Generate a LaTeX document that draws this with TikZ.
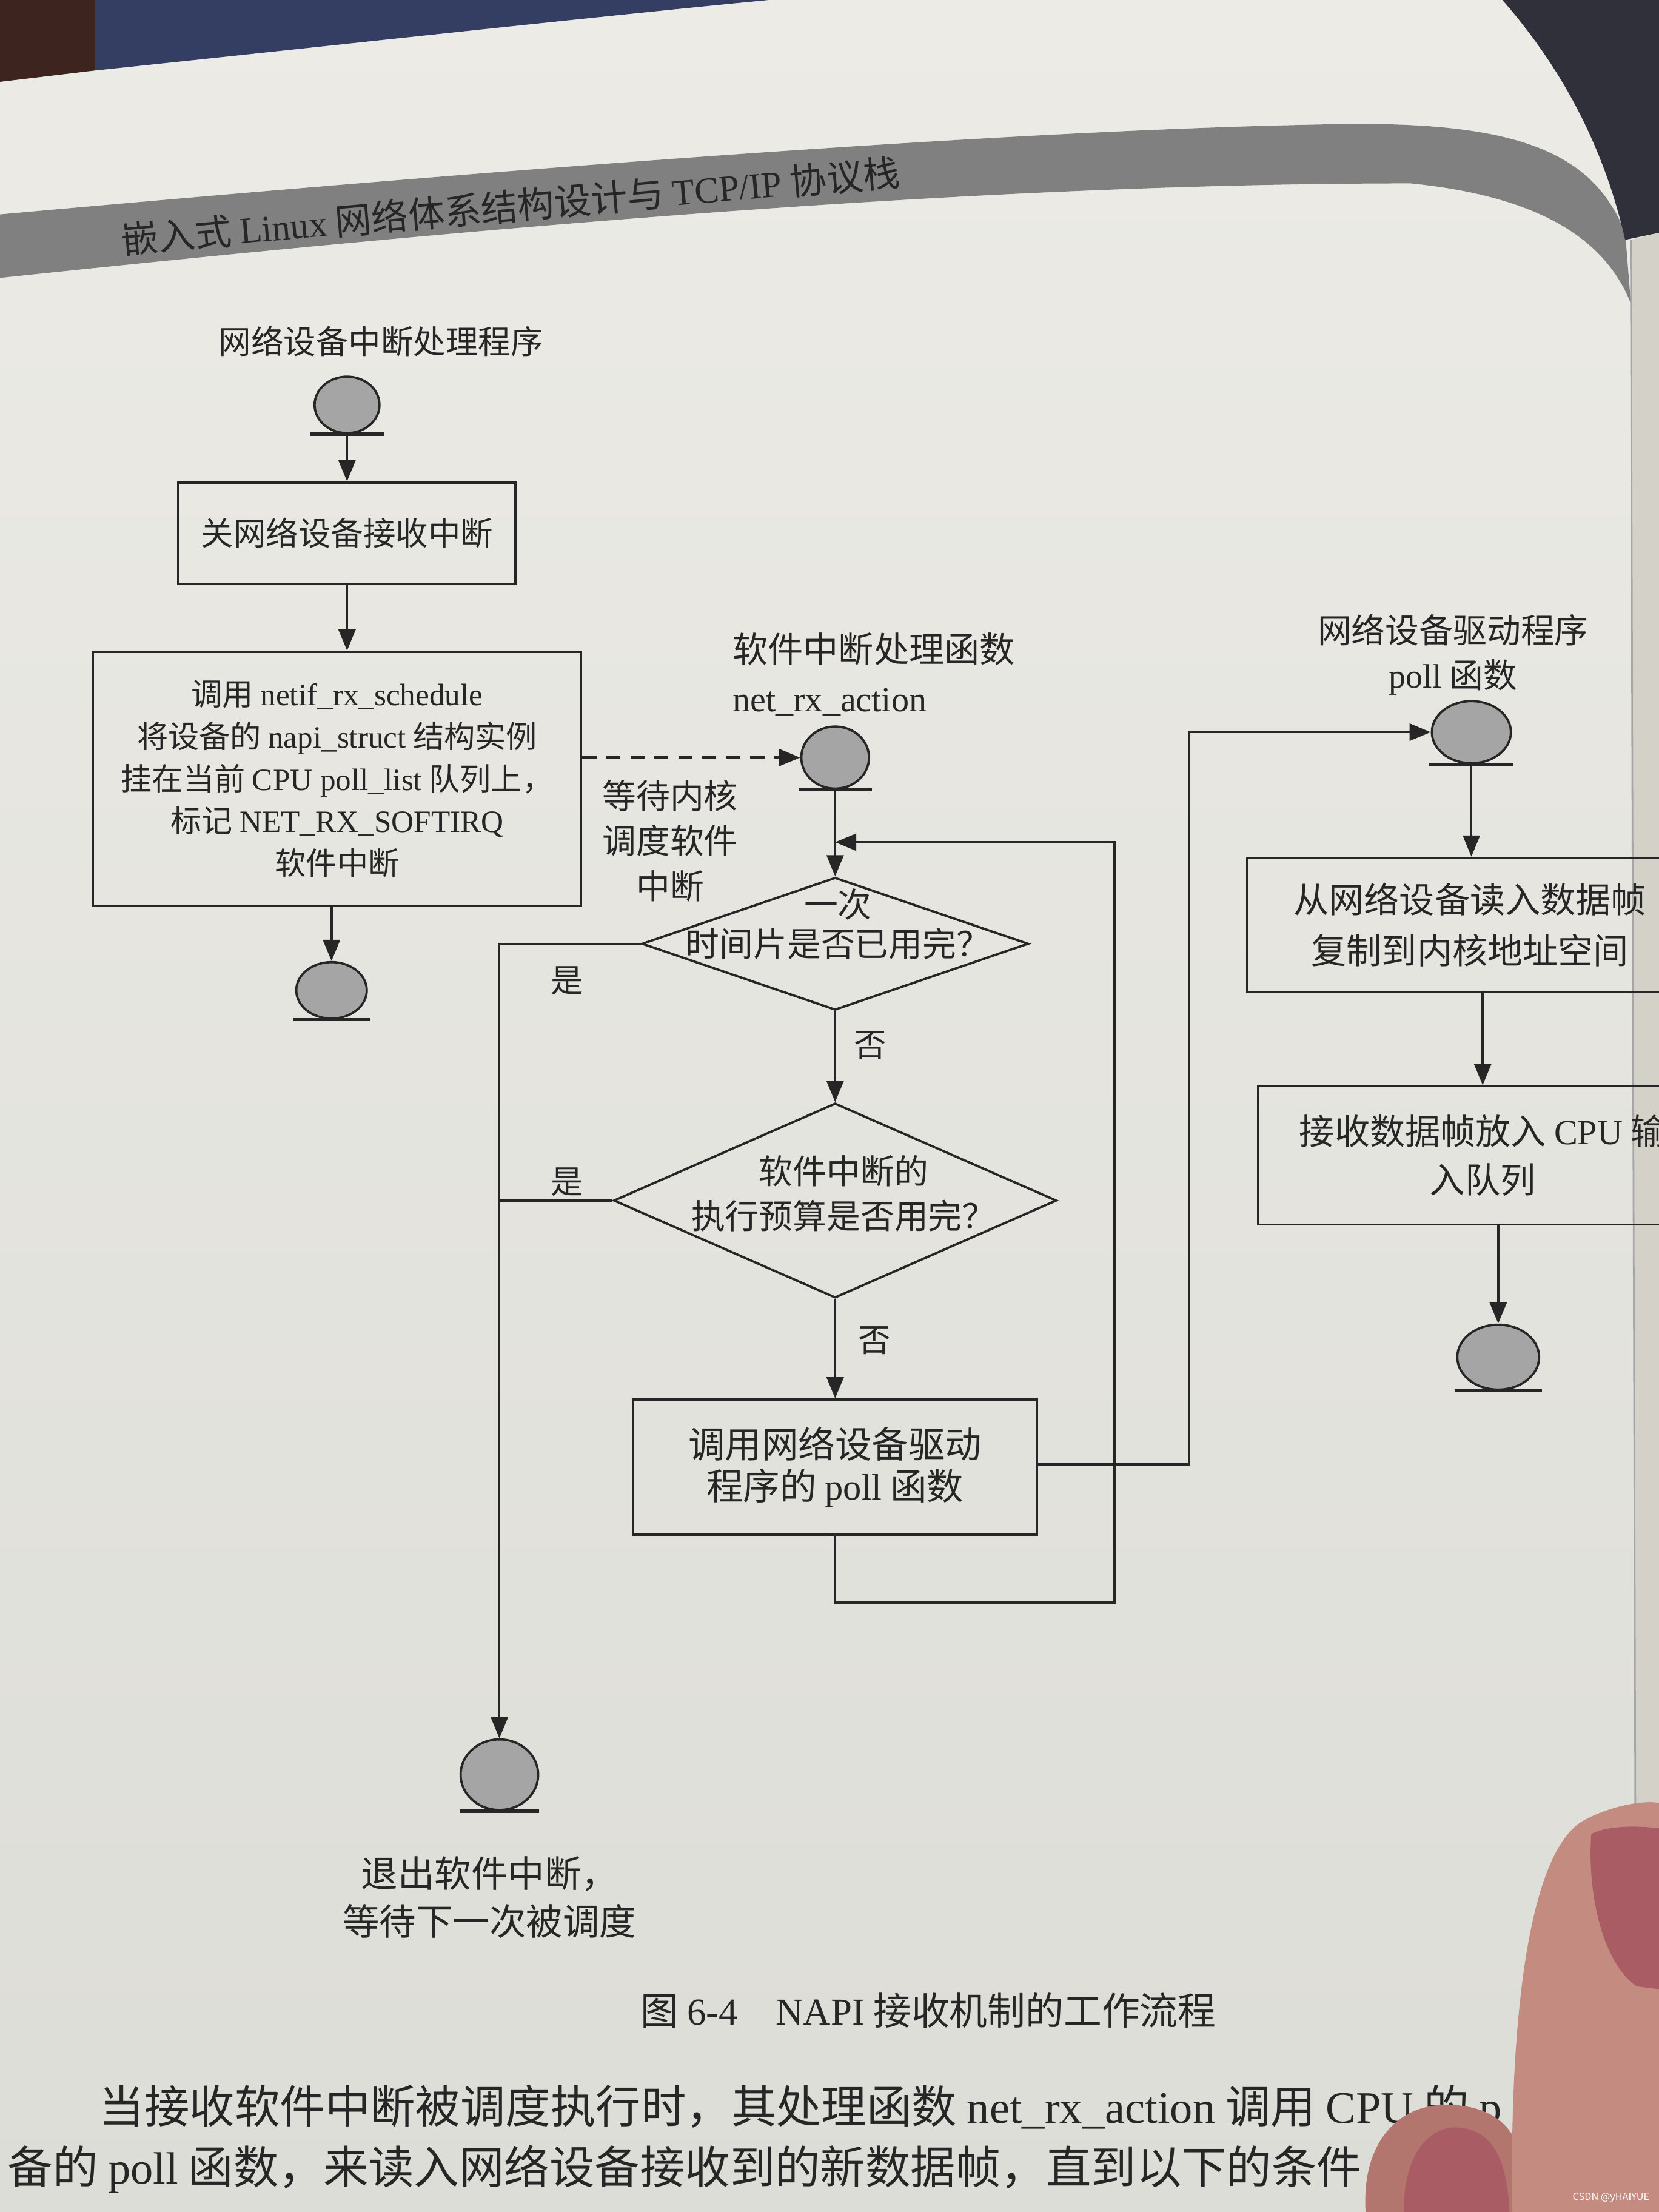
\documentclass[tikz,border=0pt]{standalone}
\usepackage{fontspec}
\setmainfont{Noto Sans CJK SC}
\newfontfamily\enfont{Liberation Serif}
\usetikzlibrary{shapes.geometric,arrows.meta,calc}
\newcommand{\latn}[1]{{\enfont #1}}
\newcommand{\fsz}[2]{\fontsize{#1pt}{#2pt}\selectfont}
\definecolor{paperTop}{RGB}{236,235,229}
\definecolor{paperBot}{RGB}{221,221,215}
\definecolor{ink}{RGB}{38,38,38}
\definecolor{termfill}{RGB}{165,165,165}
\definecolor{bandgray}{RGB}{128,128,128}
\definecolor{navy}{RGB}{52,62,98}
\definecolor{darkbrown}{RGB}{62,36,30}
\definecolor{darkcorner}{RGB}{48,48,58}
\definecolor{nextpage}{RGB}{212,210,200}
\definecolor{skin}{RGB}{196,140,128}
\definecolor{skindark}{RGB}{178,118,110}
\definecolor{nail}{RGB}{170,92,100}
\begin{document}
\begin{tikzpicture}[x=0.5pt,y=-0.5pt,
  lab/.style={inner sep=0pt, text=ink, align=center},
  box/.style={draw=ink, line width=0.8pt, inner sep=0pt, text=ink, align=center},
  term/.style={ellipse, draw=ink, line width=0.8pt, fill=termfill, inner sep=0pt},
  dia/.style={diamond, draw=ink, line width=0.8pt, inner sep=0pt},
  conn/.style={draw=ink, line width=0.8pt},
  arr/.style={conn, -{Triangle[length=7.5pt,width=6pt]}},
  bar/.style={draw=ink, line width=1.2pt}]
\clip (0,0) rectangle (1176,1568);
% ---------- paper and photo surroundings ----------
\fill[top color=paperTop, bottom color=paperBot] (0,0) rectangle (1176,1568);
\fill[darkbrown] (0,0) -- (67,0) -- (67,50) -- (0,58) -- cycle;
\fill[navy] (67,0) -- (545,0) .. controls (420,12) and (220,34) .. (67,50) -- cycle;
\fill[bandgray] (0,152) .. controls (300,125) and (700,92) .. (950,88)
  .. controls (1080,86) and (1130,110) .. (1152,165) -- (1156,215)
  .. controls (1140,175) and (1100,140) .. (1000,130)
  .. controls (700,130) and (350,160) .. (0,197) -- cycle;
\fill[nextpage] (1156,170) -- (1176,165) -- (1176,1568) -- (1160,1568) -- cycle;
\draw[black!35, line width=0.6pt] (1156,170) -- (1160,1568);
\fill[darkcorner] (1065,0) .. controls (1100,40) and (1135,95) .. (1152,170) -- (1176,165) -- (1176,0) -- cycle;
\node[lab, rotate=5, font=\fsz{13}{15}, text=black!85] (hdr) at (362,146)
  {嵌入式 \latn{Linux} 网络体系结构设计与 \latn{TCP/IP} 协议栈};
% ---------- left column ----------
\node[lab, font=\fsz{11.5}{14}] (t1) at (270,242) {网络设备中断处理程序};
\node[term, minimum width=23pt, minimum height=20pt] (c1) at (246,287) {};
\draw[bar] ($(c1.south)+(-26,0)$) -- ($(c1.south)+(26,0)$);
\node[box, minimum width=119.5pt, minimum height=36pt, font=\fsz{11.5}{14}] (b1) at (246,378) {关网络设备接收中断};
\node[box, minimum width=173pt, minimum height=90pt, font=\fsz{11}{15}] (b2) at (239,552)
  {调用 \latn{netif\_rx\_schedule}\\将设备的 \latn{napi\_struct} 结构实例\\挂在当前 \latn{CPU poll\_list} 队列上，\\标记 \latn{NET\_RX\_SOFTIRQ}\\软件中断};
\node[term, minimum width=25pt, minimum height=20pt] (c3) at (235,702) {};
\draw[bar] ($(c3.south)+(-27,0)$) -- ($(c3.south)+(27,0)$);
\draw[arr] (c1.south) -- (c1.south |- b1.north);
\draw[arr] (b1.south) -- (b1.south |- b2.north);
\draw[arr] (b2.south -| c3.north) -- (c3.north);
% ---------- middle column ----------
\node[lab, align=left, anchor=west, font=\fsz{12.5}{17.5}] (t2) at (519,478)
  {软件中断处理函数\\\latn{net\_rx\_action}};
\node[term, minimum width=24pt, minimum height=22pt] (c2) at (592,537) {};
\draw[bar] ($(c2.south)+(-26,0)$) -- ($(c2.south)+(26,0)$);
\draw[arr, dashed, dash pattern=on 5pt off 3.5pt] (b2.east |- c2.west) -- (c2.west);
\node[lab, font=\fsz{12}{16}] (wait) at (475,596) {等待内核\\调度软件\\中断};
\node[dia, minimum width=137pt, minimum height=47pt] (d1) at (592,669) {};
\node[lab, font=\fsz{12}{14}] (d1t) at (594,655) {一次\\时间片是否已用完？};
\node[dia, minimum width=157pt, minimum height=69pt] (d2) at (592,851) {};
\node[lab, font=\fsz{12}{16}] (d2t) at (598,846) {软件中断的\\执行预算是否用完？};
\node[box, minimum width=143pt, minimum height=48pt, font=\fsz{13}{15}] (b3) at (592,1040)
  {调用网络设备驱动\\程序的 \latn{poll} 函数};
\coordinate (m1) at (592,597);
\coordinate (lp) at (790,1136);
\coordinate (rt) at (843,1038);
\draw[arr] (c2.south) -- (d1.north);
\draw[arr] (d1.south) -- (d2.north);
\draw[arr] (d2.south) -- (b3.north);
\draw[arr] (b3.south) |- (lp) |- (m1);
\node[lab, font=\fsz{11.5}{14}] (no1) at (617,741) {否};
\node[lab, font=\fsz{11.5}{14}] (no2) at (620,950) {否};
% ---------- exit ----------
\node[term, minimum width=27.5pt, minimum height=25pt] (c6) at (354,1258) {};
\draw[bar] ($(c6.south)+(-28,0)$) -- ($(c6.south)+(28,0)$);
\draw[arr] (d1.west) -| (c6.north);
\draw[conn] (d2.west) -- (d2.west -| c6.north);
\node[lab, font=\fsz{11.5}{14}] (yes1) at (402,695) {是};
\node[lab, font=\fsz{11.5}{14}] (yes2) at (402,838) {是};
\node[lab, font=\fsz{13}{17}] (exitt) at (347,1345) {退出软件中断，\\等待下一次被调度};
% ---------- right column ----------
\node[lab, font=\fsz{12}{16}] (t3) at (1030,464) {网络设备驱动程序\\\latn{poll} 函数};
\node[term, minimum width=28pt, minimum height=22pt] (c4) at (1043,519) {};
\draw[bar] ($(c4.south)+(-30,0)$) -- ($(c4.south)+(30,0)$);
\draw[arr] (b3.east |- rt) -- (rt) |- (c4.west);
\node[box, minimum width=158pt, minimum height=47.5pt, font=\fsz{12.5}{18}] (b4) at (1042,655.5)
  {从网络设备读入数据帧\\复制到内核地址空间};
\node[box, minimum width=159pt, minimum height=49pt, font=\fsz{12.5}{17}] (b5) at (1051,819)
  {接收数据帧放入 \latn{CPU} 输\\入队列};
\node[term, minimum width=29pt, minimum height=23pt] (c5) at (1062,962) {};
\draw[bar] ($(c5.south)+(-31,0)$) -- ($(c5.south)+(31,0)$);
\draw[arr] (c4.south) -- (c4.south |- b4.north);
\draw[arr] (b4.south -| b5.north) -- (b5.north);
\draw[arr] (b5.south -| c5.north) -- (c5.north);
% ---------- caption and body text ----------
\node[lab, font=\fsz{13.5}{16}] (cap) at (658,1425) {图 \latn{6-4}\quad \latn{NAPI} 接收机制的工作流程};
\node[lab, anchor=base west, font=\fsz{16}{20}] (body1) at (70,1505)
  {当接收软件中断被调度执行时，其处理函数 \latn{net\_rx\_action} 调用 \latn{CPU} 的 \latn{p}};
\node[lab, anchor=base west, font=\fsz{16}{20}] (body2) at (5,1548)
  {备的 \latn{poll} 函数，来读入网络设备接收到的新数据帧，直到以下的条件};
% ---------- fingers ----------
\fill[skindark] (968,1568) .. controls (965,1520) and (990,1492) .. (1025,1492)
  .. controls (1060,1492) and (1078,1510) .. (1080,1540) -- (1080,1568) -- cycle;
\fill[nail] (995,1568) .. controls (995,1530) and (1010,1510) .. (1030,1508)
  .. controls (1055,1508) and (1068,1525) .. (1070,1568) -- cycle;
\fill[skin] (1072,1568) .. controls (1070,1450) and (1080,1320) .. (1120,1292)
  .. controls (1140,1280) and (1165,1276) .. (1176,1278) -- (1176,1568) -- cycle;
\fill[nail] (1128,1300) .. controls (1125,1340) and (1135,1390) .. (1160,1408)
  -- (1176,1410) -- (1176,1296) .. controls (1160,1294) and (1140,1294) .. (1128,1300) -- cycle;
\node[lab, font=\fsz{3.5}{4}, text=white] (wm) at (1142,1558) {CSDN @yHAIYUE};
\end{tikzpicture}
\end{document}
